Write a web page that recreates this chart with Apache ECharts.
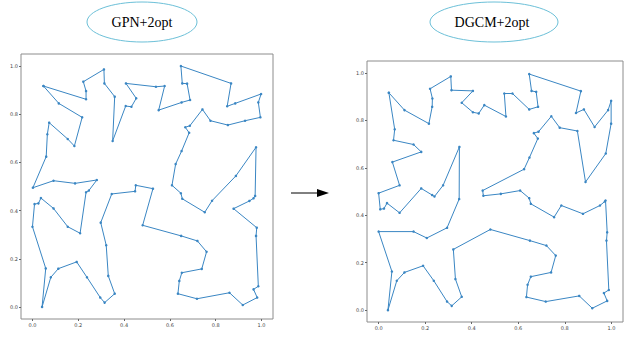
<!DOCTYPE html>
<html>
<head>
<meta charset="utf-8">
<script src="https://cdn.jsdelivr.net/npm/echarts@6/dist/echarts.min.js"></script>
<style>
  html, body { margin: 0; padding: 0; background: #fff; }
  #main { width: 633px; height: 339px; }
</style>
</head>
<body>
<div id="main"></div>
<script>
// tour (GPN+2opt), in visiting order
var gpnTour = [
  [0.048,0.917],[0.234,0.862],[0.234,0.896],[0.222,0.935],[0.312,0.986],[0.314,0.928],
  [0.359,0.873],[0.350,0.689],[0.407,0.834],[0.432,0.831],[0.453,0.866],[0.408,0.928],
  [0.539,0.914],[0.577,0.917],[0.551,0.817],[0.651,0.849],[0.688,0.859],[0.675,0.927],
  [0.654,0.928],[0.648,1.000],[0.867,0.928],[0.850,0.833],[0.885,0.845],[0.998,0.884],
  [0.986,0.849],[0.995,0.787],[0.928,0.773],[0.853,0.755],[0.777,0.773],[0.742,0.820],
  [0.687,0.752],[0.667,0.746],[0.684,0.723],[0.651,0.647],[0.625,0.593],[0.609,0.505],
  [0.648,0.472],[0.654,0.449],[0.752,0.393],[0.784,0.441],[0.888,0.544],[0.976,0.663],
  [0.972,0.461],[0.965,0.451],[0.947,0.440],[0.878,0.408],[0.979,0.329],[0.976,0.295],
  [0.986,0.086],[0.965,0.073],[0.981,0.039],[0.918,0.008],[0.860,0.059],[0.718,0.034],
  [0.635,0.055],[0.641,0.108],[0.652,0.142],[0.739,0.158],[0.760,0.229],[0.720,0.274],
  [0.649,0.295],[0.481,0.339],[0.526,0.491],[0.451,0.505],[0.448,0.480],[0.346,0.469],
  [0.298,0.350],[0.322,0.256],[0.331,0.129],[0.359,0.055],[0.315,0.018],[0.296,0.039],
  [0.238,0.123],[0.193,0.187],[0.113,0.159],[0.080,0.123],[0.042,0.000],[0.058,0.160],
  [0.000,0.333],[0.009,0.427],[0.026,0.430],[0.037,0.452],[0.092,0.409],[0.154,0.333],
  [0.208,0.306],[0.234,0.476],[0.246,0.483],[0.281,0.527],[0.186,0.513],[0.092,0.524],
  [0.002,0.495],[0.060,0.624],[0.065,0.717],[0.073,0.765],[0.154,0.697],[0.183,0.668],
  [0.217,0.787],[0.115,0.845]
];

// tour (DGCM+2opt)
var dgcmTour = [
  [0.044,0.916],[0.069,0.762],[0.064,0.716],[0.150,0.698],[0.183,0.667],[0.059,0.624],
  [0.090,0.526],[0.000,0.493],[0.007,0.425],[0.023,0.428],[0.036,0.451],[0.090,0.410],
  [0.183,0.513],[0.230,0.485],[0.240,0.479],[0.277,0.526],[0.347,0.688],[0.346,0.468],
  [0.294,0.347],[0.207,0.304],[0.150,0.331],[0.000,0.331],[0.057,0.163],[0.040,0.000],
  [0.078,0.124],[0.111,0.159],[0.191,0.187],[0.237,0.124],[0.294,0.036],[0.314,0.018],
  [0.357,0.056],[0.330,0.131],[0.321,0.256],[0.480,0.340],[0.650,0.293],[0.721,0.272],
  [0.761,0.230],[0.741,0.159],[0.654,0.141],[0.640,0.107],[0.635,0.055],[0.718,0.036],
  [0.862,0.060],[0.918,0.008],[0.982,0.039],[0.968,0.072],[0.989,0.085],[0.979,0.293],
  [0.982,0.328],[0.975,0.462],[0.972,0.458],[0.951,0.441],[0.878,0.406],[0.785,0.441],
  [0.754,0.392],[0.654,0.448],[0.647,0.472],[0.608,0.504],[0.525,0.490],[0.450,0.482],
  [0.447,0.504],[0.625,0.594],[0.648,0.643],[0.684,0.723],[0.667,0.746],[0.687,0.752],
  [0.742,0.817],[0.778,0.769],[0.854,0.755],[0.889,0.540],[0.976,0.660],[0.999,0.786],
  [0.999,0.882],[0.986,0.843],[0.928,0.772],[0.882,0.846],[0.848,0.831],[0.869,0.923],
  [0.647,0.995],[0.657,0.924],[0.677,0.920],[0.685,0.857],[0.647,0.846],[0.575,0.913],
  [0.540,0.913],[0.547,0.816],[0.454,0.864],[0.430,0.829],[0.405,0.834],[0.357,0.874],
  [0.405,0.924],[0.313,0.927],[0.310,0.985],[0.221,0.933],[0.231,0.892],[0.230,0.857],
  [0.216,0.786],[0.111,0.843]
];

var titles = ['GPN+2opt', 'DGCM+2opt'];
var tickValues = [0, 0.2, 0.4, 0.6, 0.8, 1.0];
var tickLabels = ['0.0', '0.2', '0.4', '0.6', '0.8', '1.0'];

var lineColor = '#3a86c3';
var frameColor = '#8c8c8c';

function closed(tour) {
  return tour.concat([tour[0]]);
}

function makeAxis(gridIndex) {
  return {
    type: 'value',
    gridIndex: gridIndex,
    min: -0.05,
    max: 1.05,
    splitLine: { show: false },
    axisLine: { show: false, onZero: false },
    axisTick: { show: true, inside: false, length: 2, lineStyle: { color: '#666' },
      customValues: tickValues },
    axisLabel: {
      fontSize: 5,
      color: '#444',
      fontFamily: 'DejaVu Sans',
      margin: 3,
      customValues: tickValues,
      formatter: function (v) { return tickLabels[Math.round(v / 0.2)]; }
    }
  };
}

var myChart = echarts.init(document.getElementById('main'), null, { renderer: 'svg' });

var option = {
  backgroundColor: '#fff',
  animation: false,
  grid: [
    { left: 21, top: 54, width: 252, height: 265, show: true, borderColor: frameColor, borderWidth: 1 },
    { left: 367, top: 61, width: 256, height: 261, show: true, borderColor: frameColor, borderWidth: 1 }
  ],
  xAxis: [makeAxis(0), makeAxis(1)],
  yAxis: [makeAxis(0), makeAxis(1)],
  series: [
    {
      type: 'line', xAxisIndex: 0, yAxisIndex: 0,
      data: closed(gpnTour),
      symbol: 'circle', symbolSize: 2.5, showSymbol: true,
      lineStyle: { color: lineColor, width: 1 },
      itemStyle: { color: lineColor }
    },
    {
      type: 'line', xAxisIndex: 1, yAxisIndex: 1,
      data: closed(dgcmTour),
      symbol: 'circle', symbolSize: 2.5, showSymbol: true,
      lineStyle: { color: lineColor, width: 1 },
      itemStyle: { color: lineColor }
    }
  ],
  graphic: [
    { type: 'ellipse', shape: { cx: 142, cy: 22, rx: 55, ry: 20 },
      style: { fill: '#fff', stroke: '#6cc0d8', lineWidth: 1 } },
    { type: 'text', x: 142, y: 22,
      style: { text: titles[0], fill: '#000', font: '14px "Liberation Serif"', align: 'center', verticalAlign: 'middle' } },
    { type: 'ellipse', shape: { cx: 494, cy: 22, rx: 64, ry: 20 },
      style: { fill: '#fff', stroke: '#6cc0d8', lineWidth: 1 } },
    { type: 'text', x: 492, y: 22,
      style: { text: titles[1], fill: '#000', font: '14px "Liberation Serif"', align: 'center', verticalAlign: 'middle' } },
    { type: 'line', shape: { x1: 291, y1: 193, x2: 319, y2: 193 },
      style: { stroke: '#000', lineWidth: 1 } },
    { type: 'polygon', shape: { points: [[317, 189], [329, 193], [317, 197]] },
      style: { fill: '#000' } }
  ]
};

myChart.setOption(option);
</script>
</body>
</html>
